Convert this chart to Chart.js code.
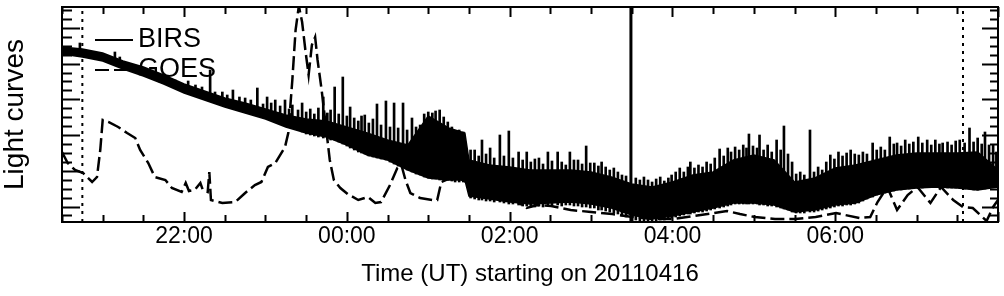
<!DOCTYPE html>
<html>
<head>
<meta charset="utf-8">
<script src="https://cdn.jsdelivr.net/npm/chart.js@4.4.1/dist/chart.umd.min.js"></script>
<style>
  html, body { margin: 0; padding: 0; background: #fff; }
  #wrap { width: 1004px; height: 296px; }
</style>
</head>
<body>
<div id="wrap"><canvas id="lc" width="1004" height="296"></canvas></div>
<script>
// time axis: hours UT counted from 00:00 on 2011-04-16 (values above 24 are the next day)
const xRange = [20.5, 32];
const yRange = [0, 215];

// BIRS: the radio light curve is a dense noisy band, kept as its lower and upper envelope
const birsTimes = [20.5, 20.75, 21.0, 21.25, 21.5, 21.75, 22.0, 22.25, 22.5, 22.75,
  23.0, 23.25, 23.5, 23.75, 24.0, 24.25, 24.5, 24.75, 25.0, 25.25, 25.45,
  25.5, 25.75, 26.0, 26.25, 26.5, 26.75, 27.0, 27.25, 27.5, 27.75,
  28.0, 28.25, 28.5, 28.75, 29.0, 29.25, 29.5, 29.75, 30.0, 30.25,
  30.5, 30.75, 31.0, 31.25, 31.5, 31.75, 32.0];
const birsUpper = [175, 173, 169, 161, 155, 147, 138, 131, 124, 119,
  113, 107, 103, 101, 95, 89, 82, 77, 106, 94, 89,
  62, 57, 55, 52, 52, 52, 50, 45, 38, 35,
  40, 47, 50, 62, 67, 62, 40, 44, 54, 57,
  62, 67, 69, 69, 69, 70, 52];
const birsLower = [168, 165, 161, 153, 146, 138, 129, 122, 115, 109,
  103, 95, 89, 85, 77, 67, 62, 52, 44, 42, 42,
  26, 23, 20, 18, 19, 20, 18, 14, 7, 3,
  6, 10, 14, 19, 19, 17, 10, 12, 17, 19,
  27, 32, 34, 35, 34, 32, 35];

// BIRS bursts: each one spans low..high
const spikeTimes = [20.72, 21.15, 21.21, 21.46, 21.70, 21.80, 21.89, 22.05, 22.14, 22.22,
  22.32, 22.38, 22.47, 22.53, 22.60, 22.68, 22.75, 22.82, 22.90, 22.97,
  23.02, 23.07, 23.12, 23.18, 23.24, 23.29, 23.33,
  23.40, 23.45, 23.50, 23.55,
  23.60, 23.65, 23.71, 23.76, 23.80, 23.85, 23.90, 23.95, 24.00, 24.04,
  24.09, 24.14, 24.18, 24.22, 24.27, 24.32, 24.37, 24.42, 24.48, 24.53,
  24.58, 24.63, 24.69, 24.74, 24.80, 24.85, 24.90, 24.95, 25.00, 25.05,
  25.09, 25.14, 25.19, 25.24, 25.29, 25.33, 25.38, 25.43, 25.52, 25.57,
  25.62, 25.66, 25.71, 25.76, 25.81, 25.88, 25.93, 25.99, 26.04, 26.11,
  26.16, 26.21, 26.26, 26.31, 26.36, 26.41, 26.47, 26.52, 26.59, 26.64,
  26.69, 26.74, 26.79, 26.84, 26.89, 26.94, 26.99, 27.04, 27.09, 27.13,
  27.18, 27.23, 27.28, 27.33, 27.38, 27.43, 27.55, 27.60, 27.65, 27.70,
  27.75, 27.80, 27.85, 27.90, 27.95, 27.99, 28.04, 28.09, 28.14, 28.19,
  28.22, 28.27, 28.32, 28.37, 28.42, 28.47, 28.52, 28.58, 28.63, 28.68,
  28.72, 28.77, 28.82, 28.87, 28.91, 28.94, 28.99, 29.04, 29.07, 29.12,
  29.17, 29.22, 29.28, 29.33, 29.37, 29.42, 29.47, 29.52, 29.57, 29.62,
  29.69, 29.74, 29.79, 29.84, 29.89, 29.94, 29.99, 30.04, 30.09, 30.14,
  30.19, 30.24, 30.29, 30.34, 30.39, 30.46, 30.51, 30.56, 30.61, 30.67,
  30.72, 30.76, 30.81, 30.86, 30.91, 30.96, 31.02, 31.07, 31.13, 31.18,
  31.23, 31.28, 31.32, 31.38, 31.43, 31.48, 31.53, 31.59, 31.65, 31.70,
  31.75, 31.80, 31.84, 31.89, 31.94, 31.98];
const spikeLow = [170, 160, 157, 147, 140, 138, 135, 130, 128, 124,
  125, 120, 118, 116, 119, 112, 112, 110, 114, 106,
  110, 104, 108, 102, 104, 100, 102,
  92, 90, 88, 87,
  86, 85, 84, 83, 82, 82, 80, 78, 76, 74,
  72, 70, 69, 68, 66, 65, 64, 63, 62, 60,
  58, 56, 54, 52, 50, 48, 47, 45, 44, 43,
  43, 42, 42, 42, 41, 40, 40, 40, 24, 23,
  22, 22, 21, 21, 20, 20, 19, 18, 18, 17,
  16, 16, 15, 15, 16, 15, 16, 16, 17, 16,
  17, 17, 16, 16, 15, 15, 14, 14, 12, 12,
  11, 10, 9, 8, 6, 5, 2, 1, 1, 1,
  1, 1, 2, 2, 3, 4, 5, 6, 7, 8,
  8, 9, 10, 10, 11, 12, 13, 14, 15, 16,
  17, 18, 18, 18, 18, 18, 18, 18, 17, 17,
  16, 16, 15, 14, 13, 12, 10, 9, 9, 9,
  10, 10, 11, 12, 13, 14, 15, 16, 16, 17,
  17, 18, 19, 21, 23, 25, 27, 28, 29, 30,
  31, 32, 32, 33, 33, 34, 34, 34, 35, 35,
  35, 35, 34, 34, 34, 34, 34, 33, 33, 32,
  32, 33, 33, 34, 35, 35];
const spikeHigh = [179, 170, 165, 154, 147, 146, 142, 141, 137, 135,
  152, 130, 130, 127, 132, 125, 124, 122, 134, 118,
  125, 119, 122, 116, 122, 113, 117,
  112, 119, 110, 113,
  108, 114, 125, 109, 112, 135, 108, 145, 106, 115,
  104, 101, 106, 107, 99, 103, 118, 97, 121, 95,
  119, 94, 119, 92, 104, 95, 97, 108, 110, 109,
  111, 112, 105, 100, 95, 90, 92, 90, 72, 72,
  66, 82, 68, 74, 64, 87, 66, 91, 64, 70,
  62, 70, 60, 63, 64, 58, 70, 61, 70, 60,
  57, 70, 62, 62, 58, 76, 59, 59, 56, 60,
  55, 52, 54, 50, 47, 46, 44, 42, 45, 42,
  40, 43, 45, 41, 44, 47, 50, 54, 50, 55,
  60, 54, 57, 55, 60, 58, 64, 73, 66, 74,
  70, 75, 72, 77, 74, 88, 76, 74, 87, 72,
  77, 70, 82, 72, 96, 68, 60, 48, 50, 47,
  92, 50, 55, 52, 60, 67, 63, 70, 66, 69,
  72, 68, 67, 70, 68, 79, 72, 75, 72, 85,
  78, 79, 76, 82, 78, 80, 85, 79, 82, 77,
  82, 78, 79, 80, 77, 81, 82, 79, 94, 80,
  84, 78, 90, 77, 77, 70];

// GOES soft X-ray light curve
const goesTimes = [20.5, 20.57, 20.66, 20.76, 20.87, 20.93, 20.97, 21.0, 21.07, 21.19,
  21.30, 21.40, 21.46, 21.56, 21.64, 21.77, 21.85, 21.97, 22.02, 22.06,
  22.13, 22.20, 22.23, 22.29, 22.31, 22.33, 22.47, 22.63, 22.75, 22.87,
  22.95, 23.03, 23.12, 23.24, 23.28, 23.33, 23.37, 23.41, 23.45, 23.49,
  23.53, 23.57, 23.61, 23.64, 23.69, 23.74, 23.79, 23.84, 23.92, 24.01,
  24.14, 24.26, 24.35, 24.42, 24.53, 24.62, 24.67, 24.72, 24.78, 24.90,
  25.05, 25.11, 25.16, 25.33, 25.51, 25.67, 25.88, 26.06, 26.21, 26.34,
  26.51, 26.75, 27.0, 27.26, 27.51, 27.76, 28.01, 28.26, 28.51, 28.67,
  28.83, 29.01, 29.26, 29.51, 29.76, 30.01, 30.12, 30.30, 30.43, 30.52,
  30.64, 30.76, 30.89, 31.01, 31.17, 31.30, 31.45, 31.57, 31.69, 31.86,
  31.94, 32.0];
const goesFlux = [70, 59, 52, 49, 40, 45, 72, 102, 100, 95,
  89, 84, 72, 59, 45, 42, 34, 30, 39, 31,
  32, 39, 32, 30, 50, 22, 19, 20, 29, 37,
  40, 55, 59, 75, 89, 142, 192, 216, 200, 172,
  147, 177, 185, 162, 132, 97, 62, 42, 34, 28,
  22, 25, 19, 20, 37, 54, 57, 42, 29, 24,
  22, 22, 40, 46, 38, 26, 24, 22, 14, 17,
  16, 12, 10, 8, 5, 3, 3, 6, 9, 11,
  8, 5, 3, 3, 5, 9, 7, 4, 5, 20,
  35, 12, 27, 35, 19, 35, 22, 15, 14, 1,
  15, 22];

// vertical markers (hours)
const dottedMarks = [20.75, 31.57];
const flareMarks = [27.49];

const FONT = "'Liberation Sans', Arial, Helvetica, sans-serif";

function points(times, values) {
  return times.map((t, i) => ({ x: t, y: values[i] }));
}

function markerSet(t, width, dash) {
  return {
    type: 'line',
    data: [{ x: t, y: yRange[0] }, { x: t, y: yRange[1] }],
    borderColor: '#000',
    borderWidth: width,
    borderDash: dash,
    pointRadius: 0,
    fill: false,
  };
}

function hhmm(value) {
  const h = value % 24;
  return String(h).padStart(2, '0') + ':00';
}

// inward tick marks on all four sides plus the box frame
const frameTicks = {
  id: 'frameTicks',
  afterDatasetsDraw(chart, args, opts) {
    const { ctx, chartArea: a, scales: { x, y } } = chart;
    ctx.save();
    ctx.strokeStyle = '#000';
    ctx.lineWidth = opts.tickWidth;
    ctx.beginPath();
    x.ticks.forEach((t) => {
      const px = Math.round(x.getPixelForValue(t.value)) + 0.5;
      const len = t.value % 2 === 0 ? opts.xMajor : opts.xMinor;
      ctx.moveTo(px, a.bottom);
      ctx.lineTo(px, a.bottom - len);
      ctx.moveTo(px, a.top);
      ctx.lineTo(px, a.top + len);
    });
    y.ticks.forEach((t) => {
      const py = Math.round(y.getPixelForValue(t.value)) + 0.5;
      ctx.moveTo(a.left, py);
      ctx.lineTo(a.left + (t.isMajor ? opts.yMajorLeft : opts.yMinorLeft), py);
      ctx.moveTo(a.right, py);
      ctx.lineTo(a.right - (t.isMajor ? opts.yMajorRight : opts.yMinorRight), py);
    });
    ctx.stroke();
    ctx.lineWidth = opts.frameWidth;
    ctx.strokeRect(a.left, a.top, a.right - a.left, a.bottom - a.top);
    ctx.restore();
  },
};

// IDL-style legend: a short line sample followed by the name
const lineLegend = {
  id: 'lineLegend',
  afterDatasetsDraw(chart, args, opts) {
    const { ctx } = chart;
    const items = chart.data.datasets.filter((d) => d.legendEntry);
    ctx.save();
    ctx.font = opts.font;
    ctx.fillStyle = '#000';
    ctx.strokeStyle = '#000';
    ctx.textBaseline = 'alphabetic';
    items.forEach((d, i) => {
      const yy = opts.top + i * opts.rowHeight;
      ctx.lineWidth = opts.lineWidth;
      ctx.setLineDash(d.borderDash || []);
      ctx.beginPath();
      ctx.moveTo(opts.left, yy);
      ctx.lineTo(opts.left + opts.lineLength, yy);
      ctx.stroke();
      ctx.setLineDash([]);
      ctx.fillText(d.label, opts.left + opts.lineLength + opts.gap, yy + opts.baselineShift);
    });
    ctx.restore();
  },
};

const datasets = [
  {
    label: 'BIRS',
    legendEntry: true,
    data: points(birsTimes, birsUpper),
    borderColor: '#000',
    borderWidth: 1.5,
    pointRadius: 0,
    fill: false,
  },
  {
    label: 'BIRS lower',
    data: points(birsTimes, birsLower),
    borderColor: '#000',
    borderWidth: 1.5,
    backgroundColor: '#000',
    pointRadius: 0,
    fill: '-1',
  },
  {
    type: 'bar',
    label: 'BIRS bursts',
    data: spikeTimes.map((t, i) => ({ x: t, y: [spikeLow[i], spikeHigh[i]] })),
    backgroundColor: '#000',
    barThickness: 2,
    grouped: false,
  },
  {
    label: 'GOES',
    legendEntry: true,
    data: points(goesTimes, goesFlux),
    borderColor: '#000',
    borderWidth: 2.5,
    borderDash: [14, 5],
    pointRadius: 0,
    fill: false,
  },
  ...dottedMarks.map((t) => markerSet(t, 2, [3, 5])),
  ...flareMarks.map((t) => markerSet(t, 3, [])),
];

new Chart(document.getElementById('lc'), {
  type: 'line',
  data: { datasets },
  options: {
    responsive: false,
    animation: false,
    devicePixelRatio: 1,
    events: [],
    layout: { padding: { top: 7, right: 6, left: 0, bottom: 0 } },
    elements: { line: { tension: 0 } },
    scales: {
      x: {
        type: 'linear',
        min: xRange[0],
        max: xRange[1],
        offset: false,
        grid: { display: false, drawTicks: false },
        border: { display: false },
        ticks: {
          stepSize: 0.5,
          autoSkip: false,
          maxRotation: 0,
          padding: 1,
          color: '#000',
          font: { family: FONT, size: 23 },
          callback: (v) => (v % 2 === 0 && v < xRange[1] ? hhmm(v) : ''),
        },
        title: {
          display: true,
          text: 'Time (UT) starting on 20110416',
          color: '#000',
          font: { family: FONT, size: 24 },
          padding: { top: 0, bottom: 7 },
        },
        afterFit: (scale) => { scale.height = 74; },
      },
      y: {
        type: 'linear',
        min: yRange[0],
        max: yRange[1],
        grid: { display: false, drawTicks: false },
        border: { display: false },
        ticks: { display: false },
        afterBuildTicks: (scale) => {
          const ticks = [];
          for (let k = -1; k <= 22; k++) {
            ticks.push({ value: 15.5 + k * 8.93, isMajor: k % 4 === 0 });
          }
          scale.ticks = ticks;
        },
        title: {
          display: true,
          text: 'Light curves',
          color: '#000',
          font: { family: FONT, size: 28, lineHeight: 1.1 },
          padding: { top: 0, bottom: 0 },
        },
        afterFit: (scale) => { scale.width = 62; },
      },
    },
    plugins: {
      legend: { display: false },
      tooltip: { enabled: false },
      frameTicks: {
        tickWidth: 2, frameWidth: 2,
        xMajor: 10, xMinor: 7,
        yMajorLeft: 18, yMinorLeft: 10,
        yMajorRight: 16, yMinorRight: 8,
      },
      lineLegend: {
        font: '27px ' + FONT,
        left: 95, top: 40, rowHeight: 30,
        lineLength: 38, gap: 5, lineWidth: 2, baselineShift: 7,
      },
    },
  },
  plugins: [frameTicks, lineLegend],
});
</script>
</body>
</html>
